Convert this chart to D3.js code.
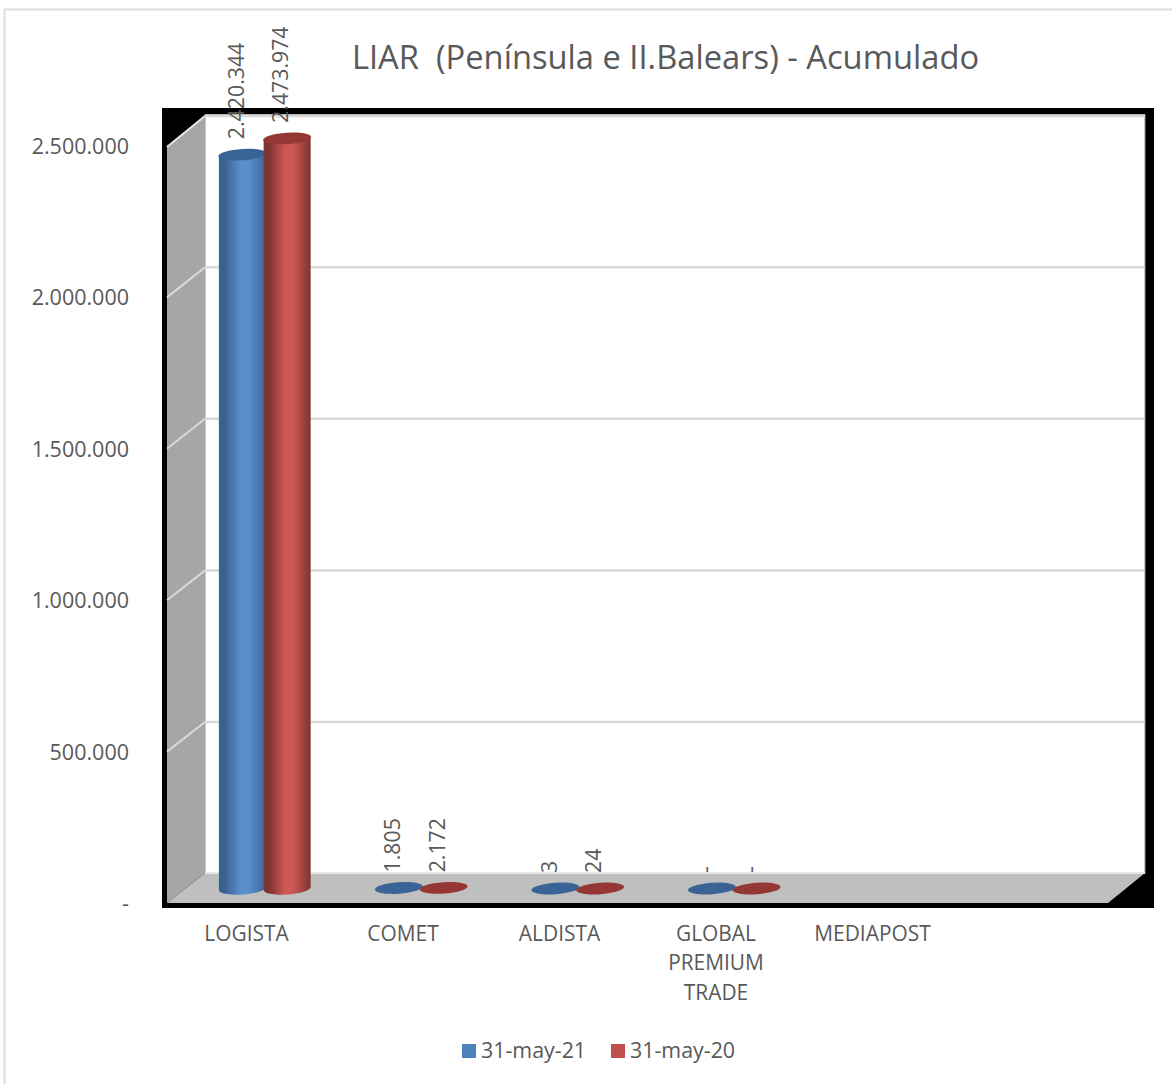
<!DOCTYPE html>
<html><head><meta charset="utf-8">
<script src="https://cdnjs.cloudflare.com/ajax/libs/d3/7.8.5/d3.min.js"></script>
<style>html,body{margin:0;padding:0;background:#fff}svg{display:block}
text{font-family:"Open Sans",sans-serif;fill:#595959}</style>
</head><body><svg id="c" width="1172" height="1084"></svg>
<script>
const categories=["LOGISTA","COMET","ALDISTA","GLOBAL PREMIUM TRADE","MEDIAPOST"];
const seriesNames=["31-may-21","31-may-20"];
const values2021=[2420344,1805,3,0,null];
const values2020=[2473974,2172,24,0,null];
const tickValues=[0,500000,1000000,1500000,2000000,2500000];
const titleText="LIAR  (Península e II.Balears) - Acumulado";
const baseColors=["#4f81bd","#c0504d"];
const capColors=["#3a6496","#953735"];
const edgeColors=[["#37618f","#5a8dce","#3d6797"],["#7f3432","#cd5754","#7c3331"]];

const svg=d3.select("#c");
const fmt=v=>v===0?"-":d3.format(",")(v).replace(/,/g,".");
const W=1172,H=1084;

// panel
svg.append("path").attr("d",`M4.5,${H}V9.5H${W}`).attr("fill","none").attr("stroke","#dedede").attr("stroke-width",2);

const yBack=d3.scaleLinear().domain([0,2500000]).range([873.5,115.7]);
const yFront=d3.scaleLinear().domain([0,2500000]).range([903,146]);
const yBar=d3.scaleLinear().domain([0,2500000]).range([888,130]);
const xCat=d3.scalePoint().domain(categories).range([246,872]);
const xSeries=d3.scaleBand().domain(seriesNames).range([-26,63.5]);

// black backdrop and 3D walls
svg.append("rect").attr("x",162).attr("y",108).attr("width",992).attr("height",800).attr("fill","#000");
svg.append("rect").attr("x",205).attr("y",115).attr("width",940).attr("height",758).attr("fill","#fff").attr("stroke","#8c8c8c").attr("stroke-width",1);
svg.append("path").attr("d","M205,116H1145").attr("stroke","#e4e4e4").attr("stroke-width",3);
svg.append("path").attr("d","M167,146L205,115V873L167,903Z").attr("fill","#a6a6a6");
svg.append("path").attr("d","M167,147L205,116").attr("stroke","#e4e4e4").attr("stroke-width",2);

// gridlines
tickValues.forEach(t=>{
  if(t>0) svg.append("line").attr("x1",205).attr("x2",1145).attr("y1",yBack(t)).attr("y2",yBack(t)).attr("stroke","#d9d9d9").attr("stroke-width",2.5);
  if(t>0&&t<2500000) svg.append("line").attr("x1",167).attr("x2",205).attr("y1",yFront(t)).attr("y2",yBack(t)).attr("stroke","#d9d9d9").attr("stroke-width",2);
});

// data labels (under the floor, as in the reference)
const defs=svg.append("defs");
seriesNames.forEach((s,i)=>{
  const g=defs.append("linearGradient").attr("id","g"+i);
  [[0,0],[.12,0],[.45,1],[.62,1],[1,2]].forEach(([o,c])=>g.append("stop").attr("offset",o).attr("stop-color",edgeColors[i][c]));
});
const allSeries=[values2021,values2020];
const labelLayer=svg.append("g");
allSeries.forEach((vals,si)=>{
  vals.forEach((v,ci)=>{
    if(v===null)return;
    const x=xCat(categories[ci])+xSeries(seriesNames[si])+xSeries.bandwidth()/2;
    labelLayer.append("text").attr("transform",`translate(${x-6.5},${yBar(v)-15}) rotate(-90)`)
      .attr("dy","0.36em").attr("font-size",21.3).text(fmt(v));
  });
});

// floor
svg.append("path").attr("d","M167,903L205,873H1145L1108,903Z").attr("fill","#bfbfbf");
svg.append("path").attr("d","M205,873H1145").attr("stroke","#e6e6e6").attr("stroke-width",2);

// cylinders
const rx=23.5,ry=6,tilt=-4;
allSeries.forEach((vals,si)=>{
  vals.forEach((v,ci)=>{
    if(v===null)return;
    const c=xCat(categories[ci])+xSeries(seriesNames[si])+xSeries.bandwidth()/2;
    const top=yBar(v),base=yBar(0);
    if(base-top>3){
      svg.append("path").attr("fill",`url(#g${si})`)
        .attr("d",`M${c-rx},${top+1}V${base+2}A${rx},${ry} ${tilt} 0 0 ${c+rx},${base-1}V${top-1}Z`);
    }
    svg.append("ellipse").attr("cx",c).attr("cy",top+.5).attr("rx",rx+.5).attr("ry",ry-.3)
      .attr("transform",`rotate(${tilt} ${c} ${top+.5})`).attr("fill",capColors[si]);
  });
});

// axes
const axY=svg.append("g").attr("transform","translate(167,0.6)")
  .call(d3.axisLeft(yFront).tickValues(tickValues).tickFormat(fmt).tickSize(0).tickPadding(38));
axY.select(".domain").remove();
axY.selectAll("text").attr("font-size",21.5).attr("fill","#595959");

const axX=svg.append("g").attr("transform","translate(0,933)")
  .call(d3.axisBottom(xCat).tickSize(0).tickPadding(0).tickFormat(()=>""));
axX.select(".domain").remove();
axX.selectAll(".tick").each(function(d){
  const t=d3.select(this).select("text").attr("y",0).attr("dy",null).attr("font-size",20.9).attr("fill","#595959");
  const lines=d==="GLOBAL PREMIUM TRADE"?d.split(" "):[d];
  lines.forEach((l,i)=>t.append("tspan").attr("x",0).attr("y",i*29.5).attr("dy","0.36em").text(l));
});

// title
svg.append("text").attr("x",665.5).attr("y",69).attr("text-anchor","middle").attr("font-size",32.7).attr("xml:space","preserve").style("white-space","pre").text(titleText);

// legend
const lgX=d3.scalePoint().domain(seriesNames).range([462,611]);
seriesNames.forEach((s,i)=>{
  svg.append("rect").attr("x",lgX(s)).attr("y",1044).attr("width",14).attr("height",14).attr("fill",baseColors[i]);
  svg.append("text").attr("x",lgX(s)+19).attr("y",1050).attr("dy","0.36em").attr("font-size",21.4).text(s);
});
</script></body></html>
